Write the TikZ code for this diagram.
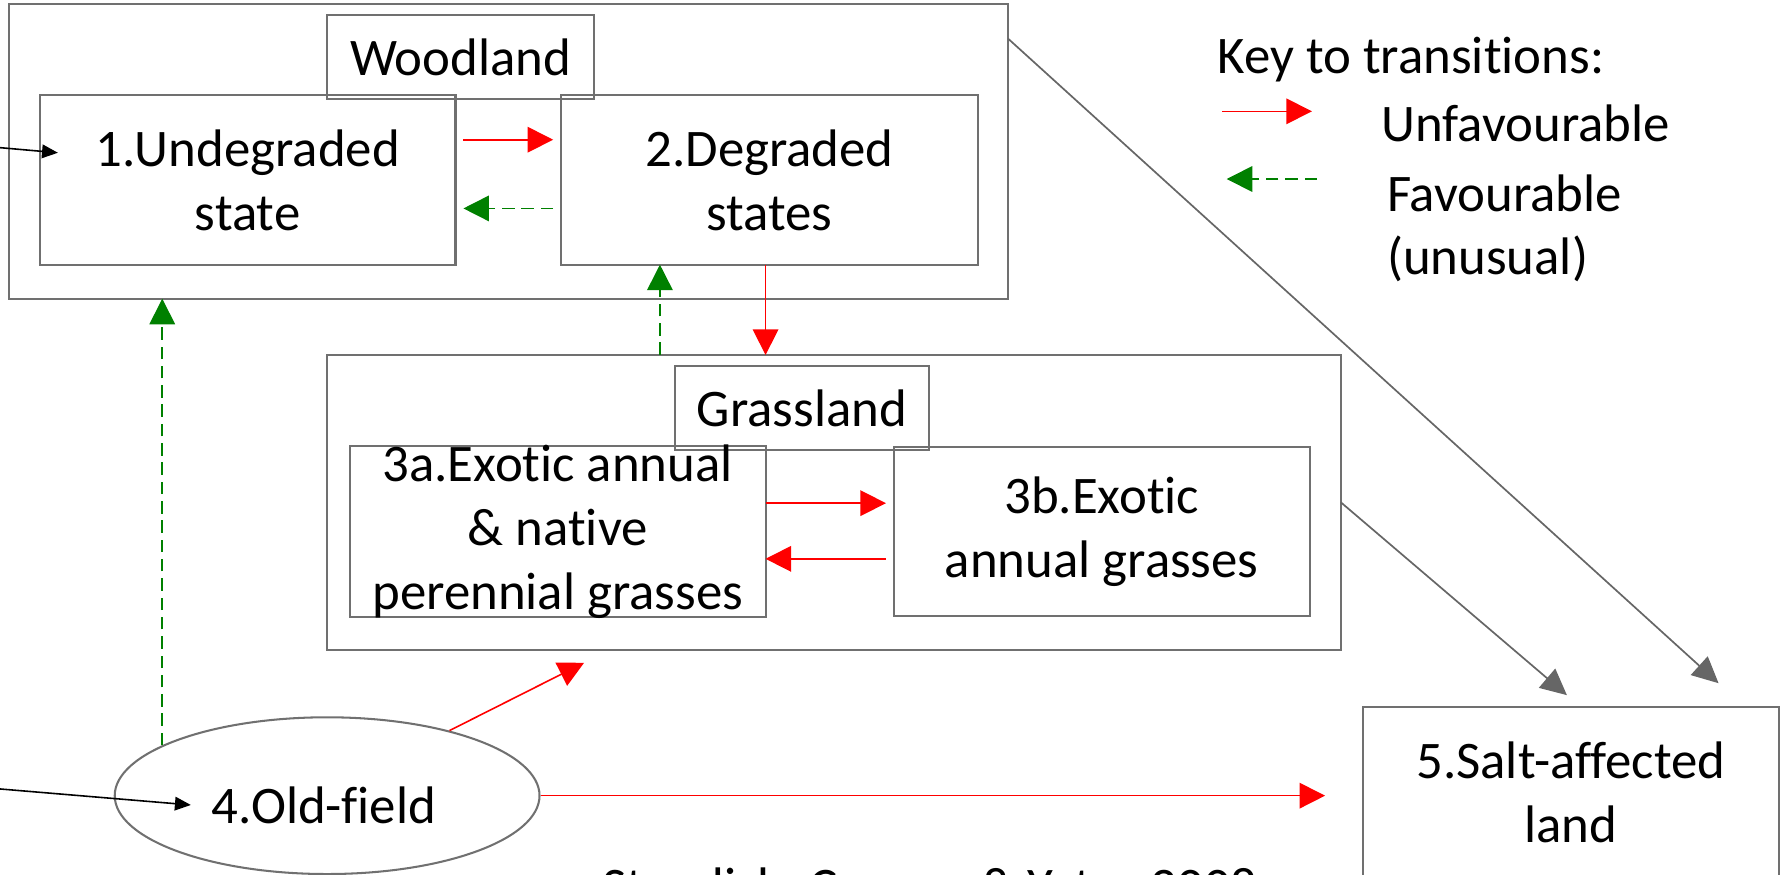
\documentclass[tikz,border=0pt]{standalone}
\usepackage{fontspec}
\setmainfont{Carlito}[Ligatures={NoCommon}]
\usetikzlibrary{arrows.meta,shapes.geometric}
\definecolor{boxgrey}{RGB}{112,112,112}
\definecolor{arrowgrey}{RGB}{102,102,102}
\definecolor{favgreen}{RGB}{0,128,0}
\definecolor{unfavred}{RGB}{255,0,0}
\begin{document}
\begin{tikzpicture}[x=1pt,y=-1pt,
  stbox/.style={draw=boxgrey, line width=1.8pt, rectangle, inner sep=0pt, outer sep=0pt},
  lbl/.style={font=\fontsize{46.5}{56.5}\selectfont, align=center, inner sep=0pt},
  unfav/.style={draw=unfavred, line width=1.4pt, -{Triangle[length=22.5pt,width=22.5pt]}},
  fav/.style={draw=favgreen, line width=1.4pt, dash pattern=on 11pt off 6pt, -{Triangle[length=22.5pt,width=22.5pt]}},
  salt/.style={draw=arrowgrey, line width=1.5pt, -{Triangle[length=23pt,width=22pt]}},
  entry/.style={draw=black, line width=1.4pt, -{Triangle[length=14pt,width=12pt]}}
]
\useasboundingbox (0,0) rectangle (1568,770);

% Woodland group
\node[stbox, minimum width=879.5pt, minimum height=259.5pt] (wood) at (447.75,133.25) {};
\node[stbox, minimum width=235pt, minimum height=74pt] (woodlbl) at (405.5,50.5) {};
\node[lbl] (woodtxt) at (woodlbl.center) {Woodland};
\node[stbox, minimum width=366pt, minimum height=149pt] (b1) at (218,158.5) {};
\node[lbl] (t1) at (b1.center) {1.Undegraded\\state};
\node[stbox, minimum width=367pt, minimum height=149pt] (b2) at (677.5,158.5) {};
\node[lbl] (t2) at (b2.center) {2.Degraded\\states};

% Grassland group
\node[stbox, minimum width=892.5pt, minimum height=259.5pt] (grass) at (734.25,442.25) {};
\node[stbox, minimum width=224pt, minimum height=74pt] (grasslbl) at (706,359.5) {};
\node[lbl] (grasstxt) at (grasslbl.center) {Grassland};
\node[stbox, minimum width=366pt, minimum height=150pt] (b3a) at (491,468) {};
\node[lbl] (t3a) at (b3a.center) {3a.Exotic annual\\\& native\\perennial grasses};
\node[stbox, minimum width=366pt, minimum height=149pt] (b3b) at (970,468) {};
\node[lbl] (t3b) at (b3b.center) {3b.Exotic\\annual grasses};

% Salt-affected land
\node[stbox, minimum width=366pt, minimum height=150pt] (b5) at (1383,697.5) {};
\node[lbl] (t5) at (b5.center) {5.Salt-affected\\land};

% Old-field
\node[draw=boxgrey, line width=1.8pt, ellipse, inner sep=0pt, minimum width=374pt, minimum height=138pt] (el) at (288,700.5) {};
\node[lbl, anchor=base] (t4) at (285,725) {4.Old-field};

% Key
\node[lbl, anchor=base west] (keytitle) at (1072,65) {Key to transitions:};
\coordinate (ku1) at (1076,98);
\coordinate (ku2) at (1155,98);
\draw[unfav] (ku1) -- (ku2);
\node[lbl, anchor=base west] (keyunfav) at (1216,125) {Unfavourable};
\coordinate (kf1) at (1159.5,157.6);
\coordinate (kf2) at (1080,157.6);
\draw[fav] (kf1) -- (kf2);
\node[lbl, anchor=base west] (keyfav) at (1221,186) {Favourable};
\node[lbl, anchor=base west] (keyfav2) at (1221,242) {(unusual)};

% Entry arrows
\coordinate (in1) at (0,130);
\draw[entry] (in1) -- ([xshift=16pt,yshift=24pt]b1.west);
\coordinate (in4) at (0,694.6);
\draw[entry] (in4) -- ([xshift=-120pt,yshift=-8.2pt]el.center);

% Woodland transitions
\draw[unfav] ([xshift=7pt,yshift=35.5pt]b1.east) -- ([xshift=-7pt,yshift=35.5pt]b2.west);
\draw[fav] ([xshift=-7pt,yshift=-25pt]b2.west) -- ([xshift=7pt,yshift=-25pt]b1.east);

% Woodland <-> Grassland
\draw[unfav] ([xshift=-3.5pt]b2.south) -- ([xshift=-3.5pt]b2.south |- grass.north);
\draw[fav] ([xshift=-96.5pt]b2.south |- grass.north) -- ([xshift=-96.5pt]b2.south);

% Grassland transitions
\draw[unfav] ([yshift=25pt]b3a.east) -- ([xshift=-7pt,yshift=25pt]b3b.west);
\draw[unfav] ([xshift=-7pt,yshift=-24pt]b3b.west) -- ([yshift=-24pt]b3a.east);

% Old-field transitions
\draw[fav] (el.163.5) -- (el.163.5 |- wood.south);
\draw[unfav] (el.28) -- ([xshift=-220pt,yshift=-11.5pt]grass.south);
\draw[unfav] (el.east) -- ([xshift=-33.4pt]b5.west |- el.east);

% To salt-affected land
\draw[salt] ([yshift=99.25pt]wood.east) -- ([xshift=-53pt,yshift=21pt]b5.north east);
\draw[salt] (grass.east) -- ([xshift=-3.5pt,yshift=10.5pt]b5.north);

% Source (cut off at the lower edge, as in the reference)
\node[lbl, anchor=base west] (source) at (530,796) {Standish, Cramer \& Yates 2008};
\end{tikzpicture}
\end{document}
